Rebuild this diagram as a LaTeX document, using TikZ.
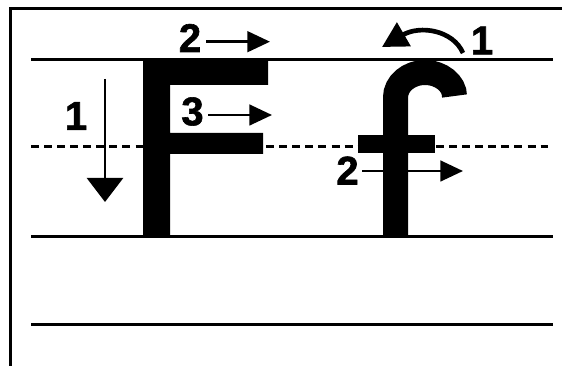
\documentclass[tikz,border=0pt]{standalone}
\usepackage{fontspec}
\setmainfont{Liberation Sans}
\newfontfamily\digitfont{Liberation Sans Bold}[FakeBold=1.5]
\usetikzlibrary{arrows.meta}

\tikzset{every picture/.style={line width=0.75pt}}
\tikzset{
  rule/.style={line width=2.25pt},
  midrule/.style={line width=1.8pt,dash pattern=on 6pt off 3.8pt},
  digit/.style={inner sep=0pt,font=\fontsize{30}{30}\selectfont\digitfont},
  strokearrow/.style={line width=2pt,-{Triangle[length=17pt,width=15.5pt]}},
  letter/.style={fill=black,draw=none}
}

\begin{document}
\begin{tikzpicture}[x=0.75pt,y=0.75pt,yscale=-1,xscale=1]
\useasboundingbox (0,0) rectangle (562,366);

%Frame
\draw [rule] (10,366) -- (10,8.5) -- (562,8.5) ;

%Writing lines
\draw [rule] (31,60) -- (553,60) ;
\draw [midrule] (31,146.5) -- (548,146.5) ;
\draw [rule] (31,236.5) -- (553,236.5) ;
\draw [rule] (31,325) -- (553,325) ;

%Shape: letter F
\draw [letter] (143,59) -- (268,59) -- (268,85) -- (170,85) -- (170,133) -- (263,133) -- (263,154) -- (170,154) -- (170,236) -- (143,236) -- cycle ;

%Shape: letter f
\draw [line width=18.75pt] (395.5,236) -- (395.5,97.5) .. controls (395.5,83.7) and (408.7,72.5) .. (425,72.5) .. controls (441.3,72.5) and (454.5,83.7) .. (454.5,96) ;
\draw [letter] (358,135) rectangle (435,153) ;

% Text Node
\node [digit] (Fone) at (76,116) {1};
% Text Node
\node [digit] (Ftwo) at (190,38) {2};
% Text Node
\node [digit] (Fthree) at (192.5,111.5) {3};
% Text Node
\node [digit] (fone) at (482,40.5) {1};
% Text Node
\node [digit] (ftwo) at (347.5,170.5) {2};

%Arrow ends
\coordinate (Fone s) at (105,79);
\coordinate (Fone e) at (105,202);
\coordinate (Ftwo s) at (206,41.7);
\coordinate (Ftwo e) at (270,41.7);
\coordinate (Fthree s) at (208,115);
\coordinate (Fthree e) at (272,115);
\coordinate (fone s) at (463,53);
\coordinate (fone e) at (382,47);
\coordinate (ftwo s) at (362,171);
\coordinate (ftwo e) at (463,171);

%Straight Lines
\draw [line width=2pt,-{Triangle[length=18pt,width=27pt]}] (Fone s) -- (Fone e) ;
\draw [strokearrow] (Ftwo s) -- (Ftwo e) ;
\draw [strokearrow] (Fthree s) -- (Fthree e) ;
\draw [strokearrow] (ftwo s) -- (ftwo e) ;
%Curve Lines
\draw [line width=3.5pt,-{Triangle[length=19pt,width=20pt]}] (fone s) .. controls (453,30) and (420,25) .. (fone e) ;

\end{tikzpicture}
\end{document}
